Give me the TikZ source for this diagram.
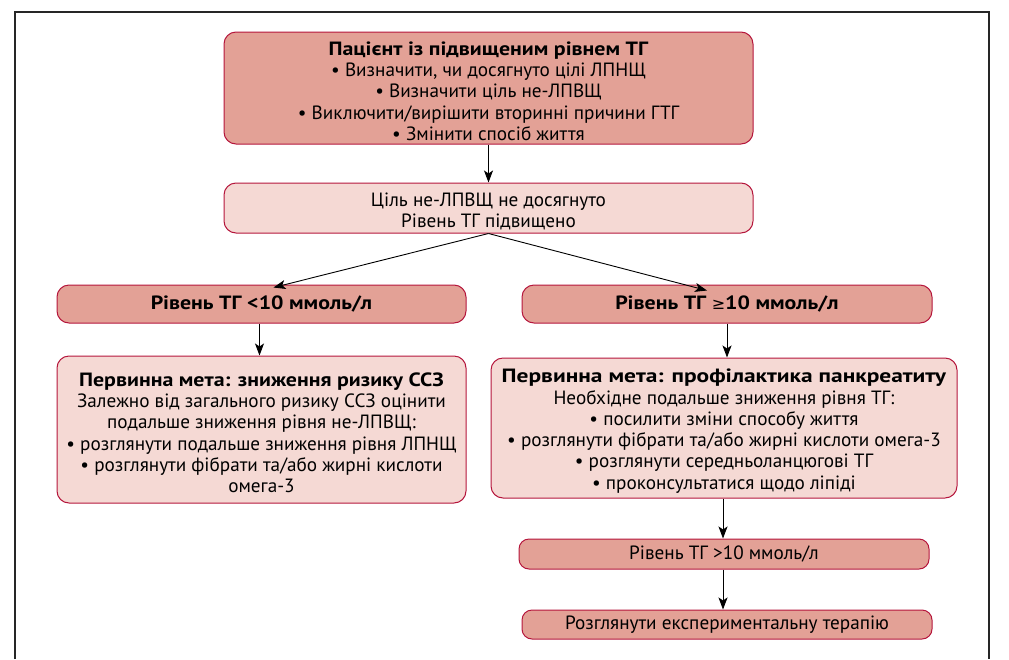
\documentclass[tikz,border=0pt]{standalone}
\usepackage{fontspec}
\usepackage{graphicx}
\setmainfont{PT Sans}[BoldFeatures={FakeStretch=1.14}]
\newfontfamily\symfont{DejaVu Sans}
\usetikzlibrary{arrows.meta,calc}
\definecolor{bord}{RGB}{181,22,60}
\definecolor{dfill}{RGB}{227,161,150}
\definecolor{lfill}{RGB}{245,217,212}
\newcommand\dnstrut{\rule{0pt}{20pt}}
\begin{document}
\begin{tikzpicture}[x=1pt,y=-1pt,
  box/.style={draw=bord,line width=1pt,rounded corners=12pt,inner sep=0pt,align=center,font=\fontsize{19.2}{21.3}\selectfont},
  dark/.style={box,fill=dfill},
  light/.style={box,fill=lfill},
  arr/.style={-{Stealth[length=12pt,width=9pt,inset=3pt]},line width=0.9pt}]
\useasboundingbox (0,0) rectangle (1009,659);
\draw[line width=1.4pt,black!85] (15,659) -- (15,12) -- (989,12) -- (989,659);
\node[dark,minimum width=529,minimum height=112] (top) at (488.5,88)
 {\dnstrut\textbf{Пацієнт із підвищеним рівнем ТГ}\\
  • Визначити, чи досягнуто цілі ЛПНЩ\\
  • Визначити ціль не-ЛПВЩ\\
  • Виключити/вирішити вторинні причини ГТГ\\
  • Змінити спосіб життя};
\node[light,minimum width=529,minimum height=50] (mid) at (488.5,208)
 {\dnstrut Ціль не-ЛПВЩ не досягнуто\\Рівень ТГ підвищено};
\node[dark,minimum width=409,minimum height=38] (l1) at (261.5,304)
 {\textbf{Рівень ТГ <10 ммоль/л}};
\node[dark,minimum width=410,minimum height=38] (r1) at (727,304)
 {\textbf{Рівень ТГ {\symfont\mdseries\fontsize{16}{16}\selectfont ≥}10 ммоль/л}};
\node[light,minimum width=409,minimum height=147] (l2) at (261.5,429.5)
 {\dnstrut\textbf{Первинна мета: зниження ризику ССЗ}\\
  Залежно від загального ризику ССЗ оцінити\\
  подальше зниження рівня не-ЛПВЩ:\\
  • розглянути подальше зниження рівня ЛПНЩ\\
  • розглянути фібрати та/або жирні кислоти\\
  омега-3};
\node[light,minimum width=466,minimum height=140] (r2) at (724,428)
 {\dnstrut\scalebox{1.07}[1]{\textbf{Первинна мета: профілактика панкреатиту}}\\
  Необхідне подальше зниження рівня ТГ:\\
  • посилити зміни способу життя\\
  • розглянути фібрати та/або жирні кислоти омега-3\\
  • розглянути середньоланцюгові ТГ\\
  • проконсультатися щодо ліпіді};
\node[dark,minimum width=410,minimum height=30,rounded corners=10pt] (r3) at (724,554)
 {Рівень ТГ >10 ммоль/л};
\node[dark,minimum width=410,minimum height=29,rounded corners=10pt] (r4) at (727,624.5)
 {Розглянути експериментальну терапію};
\draw[arr] (top.south) -- (mid.north);
\draw[arr] (mid.south) -- ([xshift=12pt,yshift=-3pt]l1.north);
\draw[arr] (mid.south) -- ([xshift=-20pt,yshift=-6pt]r1.north);
\draw[arr] ([xshift=-2pt]l1.south) -- ([xshift=-2pt]l2.north);
\draw[arr] (r1.south) -- ([xshift=3pt]r2.north);
\draw[arr] ([xshift=-1pt]r2.south) -- ([xshift=-1pt]r3.north);
\draw[arr] ([xshift=-1pt]r3.south) -- ([xshift=-4pt]r4.north);
\end{tikzpicture}
\end{document}
